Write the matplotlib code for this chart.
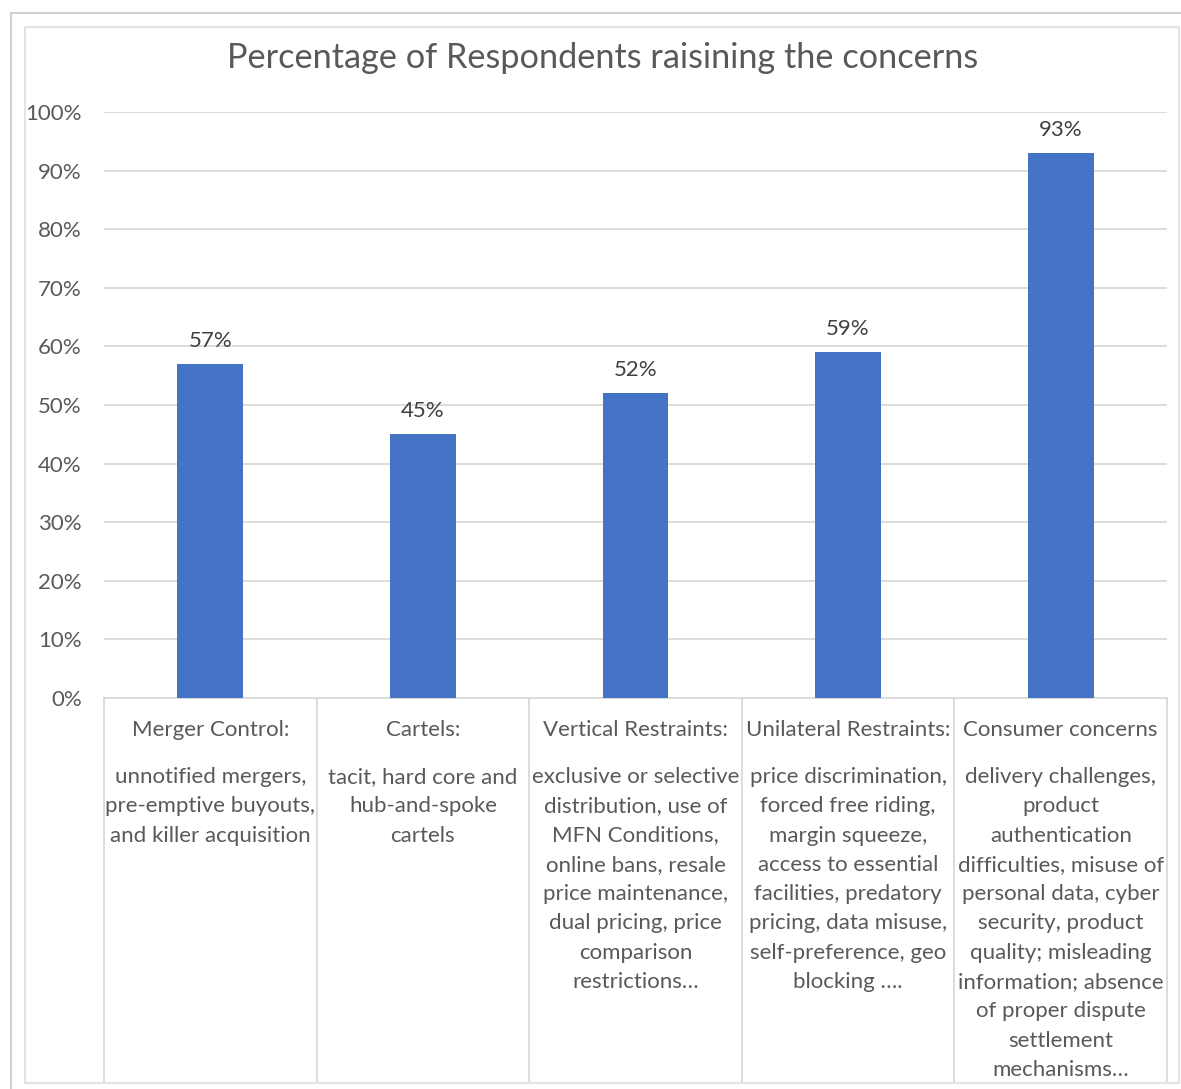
import matplotlib
matplotlib.use("Agg")
import matplotlib.pyplot as plt
from matplotlib.patches import Rectangle
from matplotlib.lines import Line2D
import matplotlib.transforms as mtransforms

plt.rcParams['font.family'] = ['Lato', 'DejaVu Sans']

title = "Percentage of Respondents raisining the concerns"
headers = ["Merger Control:", "Cartels:", "Vertical Restraints:",
           "Unilateral Restraints:", "Consumer concerns"]
details = [
    "unnotified mergers,\npre-emptive buyouts,\nand killer acquisition",
    "tacit, hard core and\nhub-and-spoke\ncartels",
    "exclusive or selective\ndistribution, use of\nMFN Conditions,\nonline bans, resale\nprice maintenance,\ndual pricing, price\ncomparison\nrestrictions…",
    "price discrimination,\nforced free riding,\nmargin squeeze,\naccess to essential\nfacilities, predatory\npricing, data misuse,\nself-preference, geo\nblocking ….",
    "delivery challenges,\nproduct\nauthentication\ndifficulties, misuse of\npersonal data, cyber\nsecurity, product\nquality; misleading\ninformation; absence\nof proper dispute\nsettlement\nmechanisms…",
]
values = [57, 45, 52, 59, 93]
yticks = [0, 10, 20, 30, 40, 50, 60, 70, 80, 90, 100]

W, H = 1181, 1089
fig = plt.figure(figsize=(W / 100, H / 100), dpi=100)
fig.patch.set_facecolor("white")

TXT = "#595959"
GRID = "#D9D9D9"
BLUE = "#4472C4"

def fx(px):
    return px / W

def fy(py):
    return 1 - py / H

# outer frame lines
fig.add_artist(Line2D([fx(11), fx(11)], [fy(13), fy(1089)], color="#D0D0D0", lw=1.5))
fig.add_artist(Line2D([fx(11), fx(1181)], [fy(13), fy(13)], color="#D0D0D0", lw=1.5))
# inner chart frame
fig.add_artist(Rectangle((fx(25), fy(1083)), fx(1179) - fx(25), fy(27) - fy(1083),
                         fill=False, edgecolor="#E3E3E3", lw=1.5))

left, right, top, bottom = 104, 1167, 112, 698
ax = fig.add_axes([fx(left), fy(bottom), fx(right) - fx(left), fy(top) - fy(bottom)])
ax.set_facecolor("none")

x = list(range(len(values)))
ax.bar(x, values, width=0.31, color=BLUE, zorder=3)
ax.set_xlim(-0.5, len(values) - 0.5)
ax.set_ylim(0, 100)
ax.set_yticks(yticks)
ax.set_yticklabels([f"{t}%" for t in yticks], fontsize=16, color=TXT)
ax.tick_params(axis="y", length=0, pad=16)
ax.set_xticks([])
for t in yticks[1:]:
    ax.axhline(t, color=GRID, lw=1.3, zorder=1)
for s in ["top", "right", "left"]:
    ax.spines[s].set_visible(False)
ax.spines["bottom"].set_color(GRID)
ax.spines["bottom"].set_linewidth(1.3)

for xi, v in zip(x, values):
    ax.text(xi, v + 2.2, f"{v}%", ha="center", va="bottom", fontsize=16, color="#404040")

trans = mtransforms.blended_transform_factory(ax.transData, ax.transAxes)
span = bottom - top
def ay(py):
    return (bottom - py) / span

for i in range(len(values) + 1):
    ax.add_line(Line2D([i - 0.5, i - 0.5], [0, ay(1083)], transform=trans,
                       color=GRID, lw=1.3, clip_on=False))

for xi, h, d in zip(x, headers, details):
    ax.text(xi, ay(730), h, transform=trans, ha="center", va="center",
            fontsize=16, color=TXT)
    ax.text(xi, ay(767), d, transform=trans, ha="center", va="top",
            fontsize=16, color=TXT, linespacing=1.58)

fig.text(fx(603), fy(58), title, ha="center", va="center", fontsize=24.7, color=TXT)

fig.savefig("out.png", dpi=100, facecolor="white")
